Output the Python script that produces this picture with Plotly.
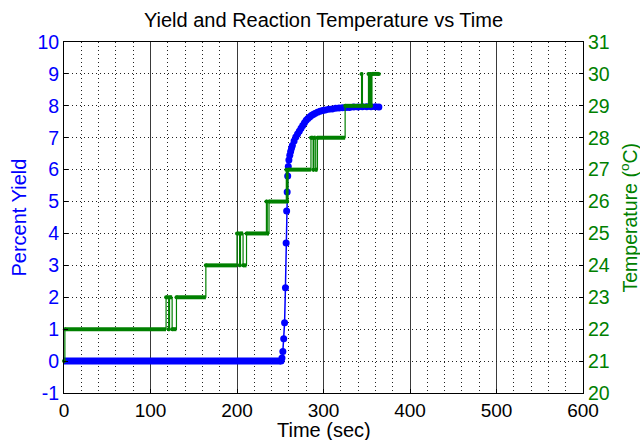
import plotly.graph_objects as go

# ---- data ----
# yield baseline (flat at 0 %) before the reaction starts
yield_flat_time = [0, 251]
yield_flat_pct = [0.0, 0.0]

# yield during the rise and plateau
yield_time = [251, 252, 253, 254, 255, 256, 256.8, 257.4, 258, 258.6, 259.3, 260,
              261, 262, 263, 264, 266, 268, 270, 272, 274, 276, 278, 280, 282, 284,
              286, 288, 290, 293, 296, 299, 302, 306, 310, 314, 318, 322, 326, 330,
              335, 340, 345, 350, 355, 360, 364]
yield_pct = [0.0, 0.1, 0.3, 0.7, 1.2, 2.3, 3.7, 4.7, 5.3, 5.8, 6.1, 6.3,
             6.45, 6.57, 6.67, 6.76, 6.9, 7.02, 7.12, 7.2, 7.3, 7.38, 7.47, 7.55, 7.6, 7.65,
             7.7, 7.73, 7.76, 7.8, 7.83, 7.85, 7.87, 7.89, 7.9, 7.92, 7.93, 7.94, 7.95, 7.95,
             7.96, 7.96, 7.97, 7.97, 7.97, 7.97, 7.96]

# reaction temperature, change points of the step series (time s, temp C)
temp_time = [0, 1, 118, 121, 122, 125, 130, 164, 200, 203, 204, 207, 211,
             234, 235, 237, 257, 258, 259, 285.5, 288, 289, 291, 293, 325,
             344, 345, 352, 353, 354, 355, 356, 364]
temp_value = [21, 22, 23, 22, 23, 22, 23, 24, 25, 24, 25, 24, 25,
              26, 25, 26, 27, 26, 27, 28, 27, 28, 27, 28, 29,
              30, 29, 30, 29, 30, 29, 30, 30]

x_ticks = [0, 100, 200, 300, 400, 500, 600]
y_ticks = [-1, 0, 1, 2, 3, 4, 5, 6, 7, 8, 9, 10]
y_tick_labels = ["-1", "0", "1", "2", "3", "4", "5", "6", "7", "8", "9", "10"]
y2_ticks = [20, 21, 22, 23, 24, 25, 26, 27, 28, 29, 30, 31]

BLUE = "#0000ff"
GREEN = "#008000"
FONT = "Liberation Sans, Arial, sans-serif"

# plot-area geometry in pixels (used only to place the axis titles)
L, R, T, B = 64, 57, 42, 47
PW, PH = 640 - L - R, 440 - T - B

# horizontal runs of the temperature steps (drawn thick, like dense markers)
run_x, run_y = [], []
for i in range(len(temp_time) - 1):
    run_x += [temp_time[i], temp_time[i + 1], None]
    run_y += [temp_value[i], temp_value[i], None]

fig = go.Figure()
fig.add_trace(go.Scatter(x=yield_flat_time, y=yield_flat_pct, mode="lines",
                         line=dict(color=BLUE, width=7), cliponaxis=False,
                         showlegend=False, yaxis="y"))
fig.add_trace(go.Scatter(x=yield_time, y=yield_pct, mode="lines+markers",
                         line=dict(color=BLUE, width=1.5),
                         marker=dict(color=BLUE, size=7, symbol="circle"),
                         cliponaxis=False, showlegend=False, yaxis="y"))
fig.add_trace(go.Scatter(x=run_x, y=run_y, mode="lines",
                         line=dict(color=GREEN, width=4), cliponaxis=False,
                         showlegend=False, yaxis="y2"))
fig.add_trace(go.Scatter(x=temp_time, y=temp_value, mode="lines+markers",
                         line=dict(color=GREEN, width=1.2, shape="hv"),
                         marker=dict(color=GREEN, size=4),
                         cliponaxis=False, showlegend=False, yaxis="y2"))

fig.update_layout(
    width=640, height=440,
    margin=dict(l=L, r=R, t=T, b=B, autoexpand=False),
    paper_bgcolor="white", plot_bgcolor="white",
    font=dict(family=FONT, size=19.5, color="black"),
    title=dict(text="Yield and Reaction Temperature vs Time",
               x=0.5, xref="paper", xanchor="center",
               y=1 - 20 / 440, yref="container", yanchor="middle",
               font=dict(family=FONT, size=20, color="black")),
    xaxis=dict(range=[0, 600], tickvals=x_ticks, ticks="inside", ticklen=4,
               tickcolor="black", showline=True, linecolor="black", linewidth=1,
               mirror=True, zeroline=False, automargin=False,
               showgrid=True, gridcolor="#3a3a3a", gridwidth=1,
               minor=dict(dtick=20, showgrid=True, griddash="1px,3px",
                          gridcolor="#222222", gridwidth=1),
               tickfont=dict(family=FONT, size=19, color="black")),
    yaxis=dict(range=[-1, 10], tickvals=y_ticks, ticktext=y_tick_labels,
               ticks="inside", ticklen=4, automargin=False,
               tickcolor="black", showline=True, linecolor="black", linewidth=1,
               mirror=True, zeroline=False,
               showgrid=True, gridcolor="#222222", gridwidth=1, griddash="1px,3px",
               tickfont=dict(family=FONT, size=19.5, color=BLUE)),
    yaxis2=dict(range=[20, 31], tickvals=y2_ticks, overlaying="y", side="right",
                ticks="inside", ticklen=4, tickcolor="black", automargin=False,
                showline=True, linecolor="black", linewidth=1,
                showgrid=False, zeroline=False,
                tickfont=dict(family=FONT, size=19.5, color=GREEN)),
    annotations=[
        dict(text="Time (sec)", xref="paper", yref="paper", x=0.5,
             y=-(430 - (440 - B)) / PH,
             xanchor="center", yanchor="middle", showarrow=False,
             font=dict(family=FONT, size=20, color="black")),
        dict(text="Percent Yield", xref="paper", yref="paper",
             x=(18 - L) / PW, y=0.5, xanchor="center", yanchor="middle",
             textangle=-90, showarrow=False,
             font=dict(family=FONT, size=20, color=BLUE)),
        dict(text="Temperature (<sup>o</sup>C)", xref="paper", yref="paper",
             x=(628 - L) / PW, y=0.5, xanchor="center", yanchor="middle",
             textangle=-90, showarrow=False,
             font=dict(family=FONT, size=19.5, color=GREEN)),
    ],
)

fig.write_html("out.html", config={"displayModeBar": False})
